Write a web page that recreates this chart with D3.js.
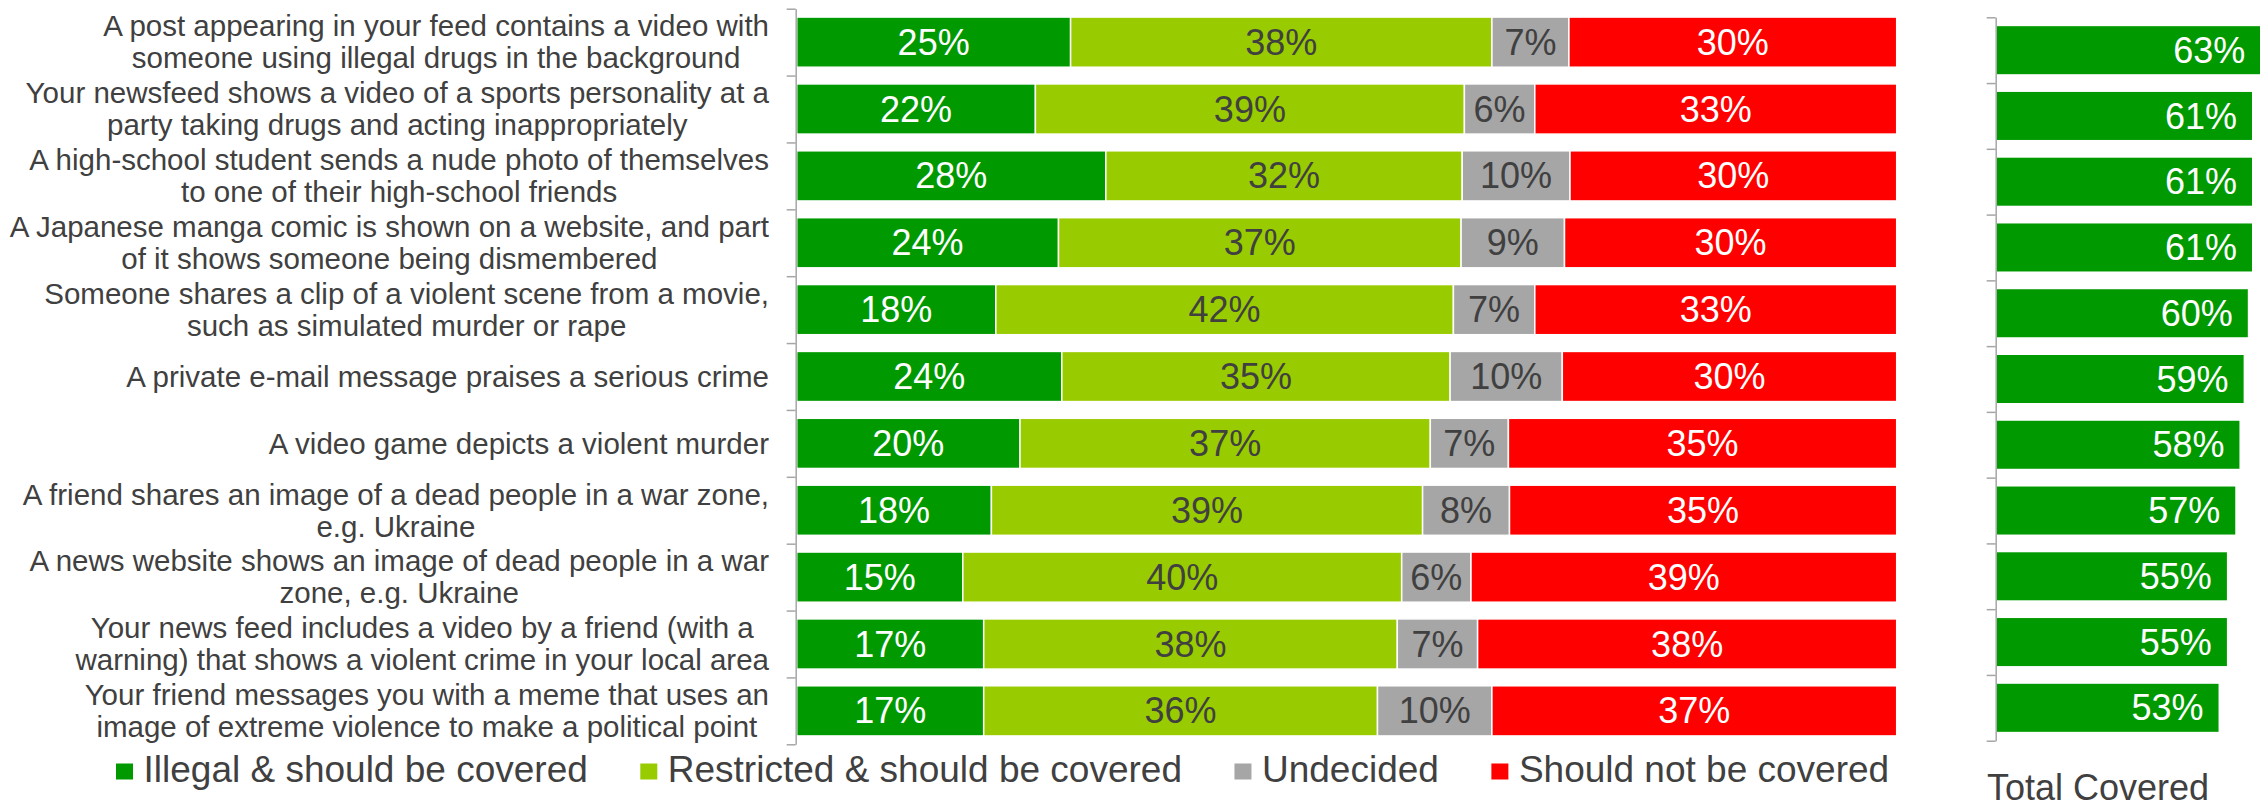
<!DOCTYPE html>
<html>
<head>
<meta charset="utf-8">
<script src="https://cdn.jsdelivr.net/npm/d3@7"></script>
<style>
  body { margin: 0; background: #fff; }
  svg { display: block; font-family: "Liberation Sans", Arial, sans-serif; }
</style>
</head>
<body>
<svg id="chart" width="2260" height="803"></svg>
<script>
// question labels (line breaks as in the source)
const questions = [
  ["A post appearing in your feed contains a video with", "someone using illegal drugs in the background"],
  ["Your newsfeed shows a video of a sports personality at a", "party taking drugs and acting inappropriately"],
  ["A high-school student sends a nude photo of themselves", "to one of their high-school friends"],
  ["A Japanese manga comic is shown on a website, and part", "of it shows someone being dismembered"],
  ["Someone shares a clip of a violent scene from a movie,", "such as simulated murder or rape"],
  ["A private e-mail message praises a serious crime"],
  ["A video game depicts a violent murder"],
  ["A friend shares an image of a dead people in a war zone,", "e.g. Ukraine"],
  ["A news website shows an image of dead people in a war", "zone, e.g. Ukraine"],
  ["Your news feed includes a video by a friend (with a", "warning) that shows a violent crime in your local area"],
  ["Your friend messages you with a meme that uses an", "image of extreme violence to make a political point"]
];

const seriesNames = ["Illegal & should be covered", "Restricted & should be covered", "Undecided", "Should not be covered"];
const seriesColors = ["#009900", "#99cc00", "#a6a6a6", "#ff0000"];
const labelColors = ["#ffffff", "#404040", "#404040", "#ffffff"];

// percentages per series, one value per question
const illegal    = [24.9, 21.7, 28.1, 23.8, 18.1, 24.1, 20.3, 17.7, 15.1, 17.0, 17.0];
const restricted = [38.3, 39.0, 32.4, 36.6, 41.6, 35.3, 37.3, 39.2, 39.9, 37.6, 35.8];
const undecided  = [7.0, 6.4, 9.8, 9.4, 7.4, 10.2, 7.1, 7.9, 6.3, 7.3, 10.4];
const notCovered = [29.8, 32.9, 29.7, 30.2, 32.9, 30.4, 35.3, 35.2, 38.7, 38.1, 36.8];

const totalCovered = [63, 61, 61, 61, 60, 59, 58, 57, 55, 55, 53];

const svg = d3.select("#chart");
const textColor = "#404040";
const axisColor = "#a6a6a6";

const ids = d3.range(questions.length);
const rows = ids.map(i => ({
  id: i,
  values: [illegal[i], restricted[i], undecided[i], notCovered[i]]
}));

// ---------- left stacked chart ----------
const x = d3.scaleLinear().domain([0, 100]).range([796.7, 1896.7]);
const y = d3.scaleBand().domain(ids).range([8.7, 744.3]).paddingInner(0.25).paddingOuter(0.125);
const yIdx = d3.scaleLinear().domain([0, ids.length]).range([8.7, 744.3]);

const stackG = svg.append("g");
rows.forEach(row => {
  let acc = 0;
  const segs = row.values.map((v, k) => {
    const s = { k: k, x0: acc, x1: acc + v, v: v };
    acc += v;
    return s;
  });
  const g = stackG.append("g");
  g.selectAll("rect")
    .data(segs)
    .enter()
    .append("rect")
    .attr("x", d => x(d.x0))
    .attr("y", y(row.id))
    .attr("width", d => x(d.x1) - x(d.x0))
    .attr("height", y.bandwidth())
    .attr("fill", d => seriesColors[d.k])
    .attr("stroke", "#fff")
    .attr("stroke-width", 1.5);
  g.selectAll("text")
    .data(segs)
    .enter()
    .append("text")
    .attr("x", d => (x(d.x0) + x(d.x1)) / 2)
    .attr("y", y(row.id) + y.bandwidth() / 2)
    .attr("dy", "0.35em")
    .attr("text-anchor", "middle")
    .attr("font-size", 36)
    .attr("fill", d => labelColors[d.k])
    .text(d => Math.round(d.v) + "%");
});

// left axis: line with ticks between categories
const leftAxis = svg.append("g")
  .attr("transform", "translate(795.7,0)")
  .call(d3.axisLeft(yIdx).tickValues(d3.range(ids.length + 1)).tickSize(9).tickSizeOuter(0).tickFormat(""));
leftAxis.selectAll("path, line").attr("stroke", axisColor).attr("stroke-width", 1.5);

// question labels: lines centred on each other, block right-aligned
const labelRight = 769;
rows.forEach(row => {
  const lines = questions[row.id];
  const t = svg.append("text")
    .attr("font-size", 29.5)
    .attr("fill", textColor)
    .attr("text-anchor", "middle");
  const lineH = 32;
  const cy = y(row.id) + y.bandwidth() / 2;
  const spans = lines.map((ln, j) => t.append("tspan")
    .attr("y", cy + (j - (lines.length - 1) / 2) * lineH)
    .attr("dy", "0.35em")
    .text(ln));
  const maxW = d3.max(spans, s => s.node().getComputedTextLength());
  spans.forEach(s => s.attr("x", labelRight - maxW / 2));
});

// legend
let lx = 116;
const legend = svg.append("g");
seriesNames.forEach((name, k) => {
  legend.append("rect")
    .attr("x", lx).attr("y", 763.5)
    .attr("width", 17).attr("height", 16)
    .attr("fill", seriesColors[k]);
  const t = legend.append("text")
    .attr("x", lx + 27.5).attr("y", 782)
    .attr("font-size", 37)
    .attr("fill", textColor)
    .text(name);
  lx += 27.5 + t.node().getComputedTextLength() + 52.5;
});

// ---------- right "Total Covered" chart ----------
const xR = d3.scaleLinear().domain([0, 100]).range([1997, 2415]);
const yR = d3.scaleBand().domain(ids).range([17.3, 740.7]).paddingInner(0.27).paddingOuter(0.135);
const yRIdx = d3.scaleLinear().domain([0, ids.length]).range([17.3, 740.7]);

svg.append("g").selectAll("rect")
  .data(ids)
  .enter()
  .append("rect")
  .attr("x", xR(0))
  .attr("y", d => yR(d))
  .attr("width", d => xR(totalCovered[d]) - xR(0))
  .attr("height", yR.bandwidth())
  .attr("fill", "#009900");

svg.append("g").selectAll("text")
  .data(ids)
  .enter()
  .append("text")
  .attr("x", d => xR(totalCovered[d]) - 15)
  .attr("y", d => yR(d) + yR.bandwidth() / 2)
  .attr("dy", "0.35em")
  .attr("text-anchor", "end")
  .attr("font-size", 36)
  .attr("fill", "#fff")
  .text(d => totalCovered[d] + "%");

const rightAxis = svg.append("g")
  .attr("transform", "translate(1995.7,0)")
  .call(d3.axisLeft(yRIdx).tickValues(d3.range(ids.length + 1)).tickSize(9).tickSizeOuter(0).tickFormat(""));
rightAxis.selectAll("path, line").attr("stroke", axisColor).attr("stroke-width", 1.5);

svg.append("text")
  .attr("x", 1987).attr("y", 800)
  .attr("font-size", 36)
  .attr("fill", textColor)
  .text("Total Covered");
</script>
</body>
</html>
